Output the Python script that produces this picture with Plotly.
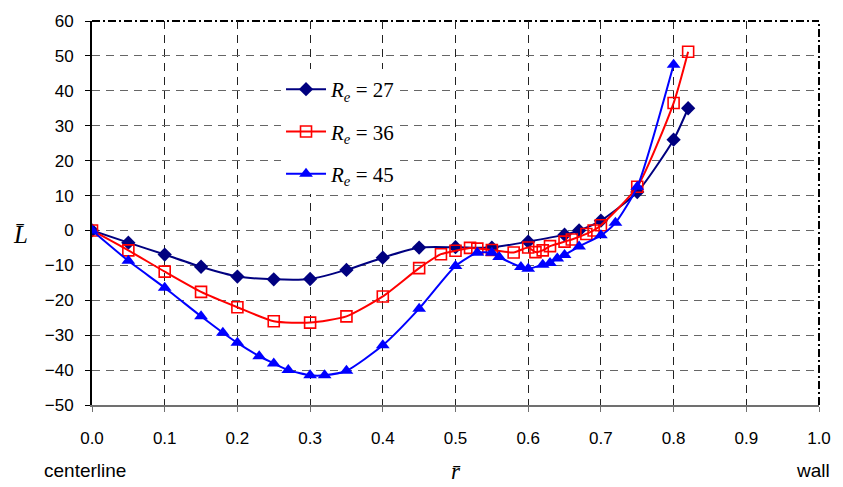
import plotly.graph_objects as go

# ---- data ----
r27 = [0, 0.05, 0.1, 0.15, 0.2, 0.25, 0.3, 0.35, 0.4, 0.45, 0.5, 0.55, 0.6, 0.65, 0.67, 0.7, 0.75, 0.8, 0.82]
L27 = [0, -3.5, -6.9, -10.4, -13.2, -14, -13.9, -11.3, -7.8, -4.9, -4.8, -4.9, -3.2, -1.2, 0, 2.8, 11, 26, 35]

r36 = [0, 0.05, 0.1, 0.15, 0.2, 0.25, 0.3, 0.35, 0.4, 0.45, 0.48, 0.5, 0.52, 0.53, 0.55, 0.58,
       0.6, 0.61, 0.62, 0.63, 0.65, 0.66, 0.68, 0.69, 0.7, 0.75, 0.8, 0.82]
L36 = [0, -5.7, -11.8, -17.6, -22, -26, -26.4, -24.6, -18.9, -10.8, -6.8, -5.8, -5, -5.2, -5.6, -6.3,
       -4.9, -6.2, -5.7, -4.5, -3.2, -2.6, -1, 0, 1.5, 12.5, 36.5, 51.2]

r45 = [0, 0.05, 0.1, 0.15, 0.18, 0.2, 0.23, 0.25, 0.27, 0.3, 0.32, 0.35, 0.4, 0.45, 0.5, 0.53,
       0.55, 0.56, 0.59, 0.6, 0.62, 0.63, 0.64, 0.65, 0.67, 0.7, 0.72, 0.75, 0.8]
L45 = [0, -8.7, -16.4, -24.6, -29.3, -32.2, -36, -38.1, -40, -41.5, -41.5, -40.2, -32.9, -22.4, -10.2, -6.4,
       -6.4, -7.6, -10.5, -11, -9.8, -9.3, -8, -7, -4.6, -1.4, 2.2, 12.5, 47.5]

names = ["<i>R</i><sub><i>e</i></sub> = 27", "<i>R</i><sub><i>e</i></sub> = 36", "<i>R</i><sub><i>e</i></sub> = 45"]
x_ticks = [0.0, 0.1, 0.2, 0.3, 0.4, 0.5, 0.6, 0.7, 0.8, 0.9, 1.0]
y_ticks = [-50, -40, -30, -20, -10, 0, 10, 20, 30, 40, 50, 60]

fig = go.Figure()
fig.add_trace(go.Scatter(x=r27, y=L27, name=names[0], legendgroup="a",
                         mode="lines+markers", line=dict(color="#000080", width=2, shape="spline", smoothing=0.6),
                         marker=dict(symbol="diamond", size=11, color="#000080")))
fig.add_trace(go.Scatter(x=r36, y=L36, name=names[1], legendgroup="b",
                         mode="lines+markers", line=dict(color="#FF0000", width=2, shape="spline", smoothing=0.6),
                         marker=dict(symbol="square-open", size=11, color="#FF0000", line=dict(width=1.6))))
fig.add_trace(go.Scatter(x=r45, y=L45, name=names[2], legendgroup="c",
                         mode="lines+markers", line=dict(color="#0000FF", width=2, shape="spline", smoothing=0.6),
                         marker=dict(symbol="triangle-up", size=12, color="#0000FF")))

# dash-dot top and right borders
fig.add_shape(type="line", xref="paper", yref="paper", x0=0, x1=1, y0=1, y1=1,
              line=dict(color="black", width=2, dash="8px,3px,2px,3px"), layer="below")
fig.add_shape(type="line", xref="paper", yref="paper", x0=1, x1=1, y0=0, y1=1,
              line=dict(color="black", width=2, dash="8px,3px,2px,3px"), layer="below")

fig.update_layout(
    width=843, height=487,
    margin=dict(l=92, r=15, t=20, b=82),
    paper_bgcolor="white", plot_bgcolor="white",
    font=dict(family="Liberation Sans, Arial", size=17, color="black"),
    showlegend=True,
    legend=dict(x=0.26, y=0.875, xanchor="left", yanchor="top",
                bgcolor="white", borderwidth=0, traceorder="grouped", tracegroupgap=12,
                font=dict(family="Liberation Serif, Times New Roman", size=21, color="black"),
                itemwidth=40),
    xaxis=dict(range=[0, 1.0], tickvals=x_ticks, ticktext=[f"{v:.1f}" for v in x_ticks],
               showgrid=True, gridcolor="#222222", gridwidth=1, griddash="8px,6px",
               showline=True, linecolor="#707070", linewidth=2,
               ticks="outside", ticklen=5, tickcolor="#707070", ticklabelstandoff=12,
               zeroline=False),
    yaxis=dict(range=[-50, 60], tickvals=y_ticks,
               showgrid=True, gridcolor="#666666", gridwidth=1.2, griddash="8px,6px",
               showline=True, linecolor="black", linewidth=2,
               ticks="outside", ticklen=5, tickcolor="black", ticklabelstandoff=8,
               zeroline=False),
)

fig.add_annotation(text="<i>L\u0304</i>", x=20, y=234, showarrow=False,
                   font=dict(family="Liberation Serif, Times New Roman", size=25))
fig.add_annotation(text="centerline", x=85, y=471, showarrow=False, font=dict(size=19))
fig.add_annotation(text="wall", x=822, y=471, showarrow=False, font=dict(size=19))
fig.add_annotation(text="<i>r\u0304</i>", x=460, y=472, showarrow=False,
                   font=dict(family="Liberation Serif, Times New Roman", size=23))

# convert pixel coords to paper coords for annotations
L, R, T, B = 92, 15, 20, 82
pw, ph = 843 - L - R, 487 - T - B
for a in fig.layout.annotations:
    a.xref = "paper"; a.yref = "paper"
    a.xanchor = "center"; a.yanchor = "middle"
    a.x = (a.x - L) / pw
    a.y = (487 - B - a.y) / ph

fig.write_html("out.html")
